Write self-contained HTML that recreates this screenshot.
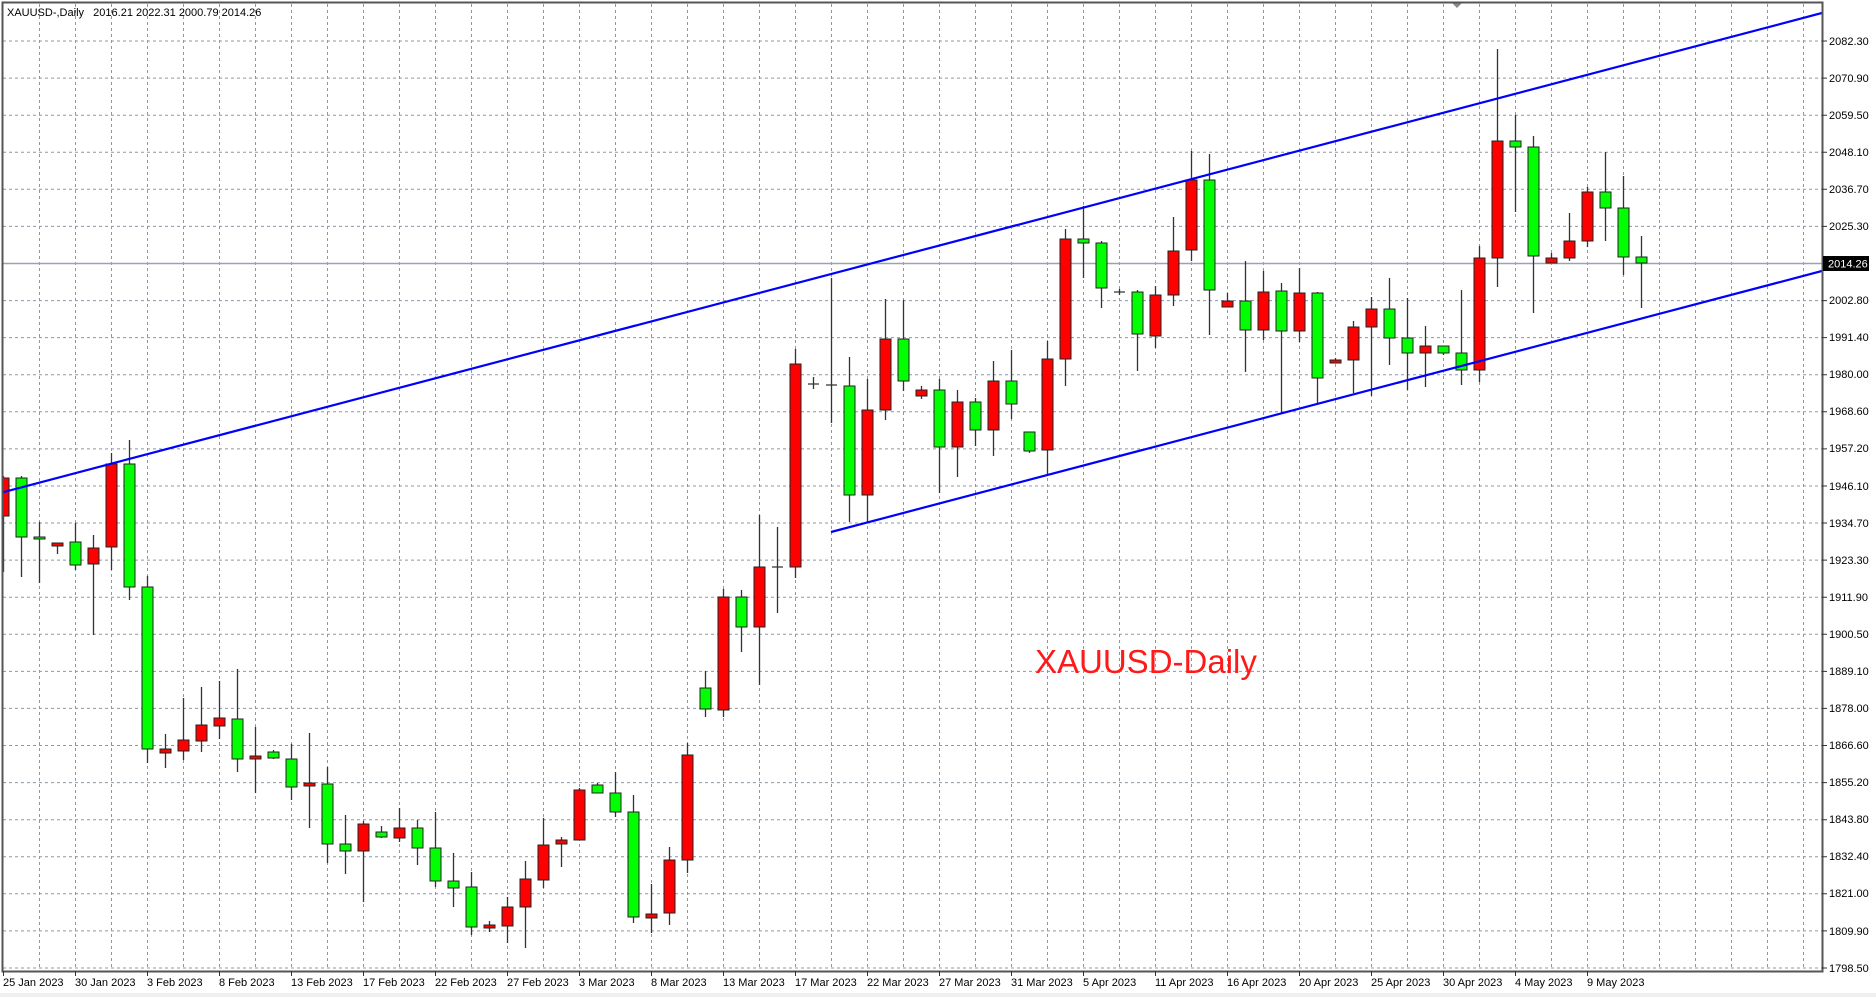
<!DOCTYPE html>
<html><head><meta charset="utf-8"><style>
html,body{margin:0;padding:0;background:#fff;}
svg{display:block;font-family:"Liberation Sans",sans-serif;}
</style></head><body>
<svg width="1876" height="997" viewBox="0 0 1876 997" xmlns="http://www.w3.org/2000/svg">
<rect x="0" y="0" width="1876" height="997" fill="#fff"/>
<rect x="0" y="993" width="1876" height="4" fill="#f0f0f0"/>
<defs><clipPath id="c"><rect x="3" y="3" width="1819" height="968"/></clipPath></defs>
<g stroke="#8a98a8" stroke-width="1" stroke-dasharray="3,3" fill="none">
<path d="M3 41H1822M3 78.1H1822M3 115.2H1822M3 152.2H1822M3 189.3H1822M3 226.4H1822M3 263.5H1822M3 300.6H1822M3 337.6H1822M3 374.7H1822M3 411.8H1822M3 448.9H1822M3 486H1822M3 523H1822M3 560.1H1822M3 597.2H1822M3 634.3H1822M3 671.4H1822M3 708.4H1822M3 745.5H1822M3 782.6H1822M3 819.7H1822M3 856.8H1822M3 893.8H1822M3 930.9H1822M3 968H1822"/>
<path d="M39.5 4V970M75.5 4V970M111.5 4V970M147.5 4V970M183.5 4V970M219.5 4V970M255.5 4V970M291.5 4V970M327.5 4V970M363.5 4V970M399.5 4V970M435.5 4V970M471.5 4V970M507.5 4V970M543.5 4V970M579.5 4V970M615.5 4V970M651.5 4V970M687.5 4V970M723.5 4V970M759.5 4V970M795.5 4V970M831.5 4V970M867.5 4V970M903.5 4V970M939.5 4V970M975.5 4V970M1011.5 4V970M1047.5 4V970M1083.5 4V970M1119.5 4V970M1155.5 4V970M1191.5 4V970M1227.5 4V970M1263.5 4V970M1299.5 4V970M1335.5 4V970M1371.5 4V970M1407.5 4V970M1443.5 4V970M1479.5 4V970M1515.5 4V970M1551.5 4V970M1587.5 4V970M1623.5 4V970M1659.5 4V970M1695.5 4V970M1731.5 4V970M1767.5 4V970M1803.5 4V970"/>
</g>
<line x1="3" y1="263.5" x2="1822" y2="263.5" stroke="#9aa4b0" stroke-width="1.5"/>
<text x="1035" y="673" font-size="33" fill="#ff1a1a">XAUUSD-Daily</text>
<g clip-path="url(#c)">
<path stroke="#333" stroke-width="1.3" fill="none" d="M3.5 476V572M21.5 476V577M39.5 522V583M57.5 543V554M75.5 523V570M93.5 535V635M111.5 453V570M129.5 440V600M147.5 576V763M165.5 734V768M183.5 698V760M201.5 687V752M219.5 681V739M237.5 669V772M255.5 727V793M273.5 750V759M291.5 744V800M309.5 733V828M327.5 767V863M345.5 815V874M363.5 821V902M381.5 826V838M399.5 808V842M417.5 820V865M435.5 812V887M453.5 853V907M471.5 872V935M489.5 921V932M507.5 897V943M525.5 861V948M543.5 818V888M561.5 837V867M579.5 788V840M597.5 783V793M615.5 772V817M633.5 795V923M651.5 884V933M669.5 847V925M687.5 743V873M705.5 671V717M723.5 589V717M741.5 590V652M759.5 515V685M777.5 527V613M795.5 349V578M813.5 377V389M831.5 278V423M849.5 357V522M867.5 379V522M885.5 299V420M903.5 300V391M921.5 386V399M939.5 379V493M957.5 390V477M975.5 398V446M993.5 361V456M1011.5 350V419M1029.5 432V453M1047.5 341V475M1065.5 229V386M1083.5 206V278M1101.5 241V308M1119.5 289V295M1137.5 290V371M1155.5 286V348M1173.5 217V306M1191.5 151V261M1209.5 154V335M1227.5 293V307M1245.5 261V372M1263.5 271V340M1281.5 283V413M1299.5 268V342M1317.5 292V403M1335.5 358V363M1353.5 321V393M1371.5 297V396M1389.5 278V365M1407.5 298V390M1425.5 326V387M1443.5 346V355M1461.5 290V385M1479.5 246V382M1497.5 49V287M1515.5 115V212M1533.5 136V313M1551.5 253V263M1569.5 213V261M1587.5 187V247M1605.5 152V241M1623.5 176V275M1641.5 236V308M772 567H783M808 384H819M826 385H837M1114 292H1125"/>
<g stroke="#222" stroke-width="1">
<g fill="#ff0000">
<rect x="-2" y="478" width="11" height="38"/>
<rect x="52" y="543" width="11" height="3"/>
<rect x="88" y="548" width="11" height="16"/>
<rect x="106" y="464" width="11" height="83"/>
<rect x="160" y="749" width="11" height="4"/>
<rect x="178" y="740" width="11" height="11"/>
<rect x="196" y="725" width="11" height="16"/>
<rect x="214" y="718" width="11" height="8"/>
<rect x="250" y="756" width="11" height="3"/>
<rect x="304" y="783" width="11" height="3"/>
<rect x="358" y="824" width="11" height="27"/>
<rect x="394" y="828" width="11" height="10"/>
<rect x="484" y="925" width="11" height="3"/>
<rect x="502" y="907" width="11" height="19"/>
<rect x="520" y="879" width="11" height="28"/>
<rect x="538" y="845" width="11" height="35"/>
<rect x="556" y="840" width="11" height="4"/>
<rect x="574" y="790" width="11" height="50"/>
<rect x="646" y="914" width="11" height="4"/>
<rect x="664" y="860" width="11" height="53"/>
<rect x="682" y="755" width="11" height="105"/>
<rect x="718" y="597" width="11" height="113"/>
<rect x="754" y="567" width="11" height="60"/>
<rect x="790" y="364" width="11" height="203"/>
<rect x="862" y="410" width="11" height="85"/>
<rect x="880" y="339" width="11" height="71"/>
<rect x="916" y="390" width="11" height="6"/>
<rect x="952" y="402" width="11" height="45"/>
<rect x="988" y="381" width="11" height="49"/>
<rect x="1042" y="359" width="11" height="91"/>
<rect x="1060" y="239" width="11" height="120"/>
<rect x="1150" y="295" width="11" height="41"/>
<rect x="1168" y="251" width="11" height="44"/>
<rect x="1186" y="180" width="11" height="70"/>
<rect x="1222" y="301" width="11" height="6"/>
<rect x="1258" y="292" width="11" height="38"/>
<rect x="1294" y="293" width="11" height="38"/>
<rect x="1330" y="360" width="11" height="3"/>
<rect x="1348" y="327" width="11" height="33"/>
<rect x="1366" y="309" width="11" height="18"/>
<rect x="1420" y="346" width="11" height="7"/>
<rect x="1474" y="258" width="11" height="112"/>
<rect x="1492" y="141" width="11" height="117"/>
<rect x="1546" y="258" width="11" height="5"/>
<rect x="1564" y="241" width="11" height="17"/>
<rect x="1582" y="192" width="11" height="49"/>
</g>
<g fill="#00ff00">
<rect x="16" y="478" width="11" height="59"/>
<rect x="34" y="537" width="11" height="2"/>
<rect x="70" y="542" width="11" height="23"/>
<rect x="124" y="464" width="11" height="123"/>
<rect x="142" y="587" width="11" height="162"/>
<rect x="232" y="719" width="11" height="40"/>
<rect x="268" y="752" width="11" height="6"/>
<rect x="286" y="759" width="11" height="28"/>
<rect x="322" y="784" width="11" height="60"/>
<rect x="340" y="844" width="11" height="7"/>
<rect x="376" y="832" width="11" height="5"/>
<rect x="412" y="828" width="11" height="20"/>
<rect x="430" y="848" width="11" height="33"/>
<rect x="448" y="881" width="11" height="7"/>
<rect x="466" y="887" width="11" height="40"/>
<rect x="592" y="785" width="11" height="8"/>
<rect x="610" y="793" width="11" height="19"/>
<rect x="628" y="812" width="11" height="105"/>
<rect x="700" y="688" width="11" height="21"/>
<rect x="736" y="597" width="11" height="30"/>
<rect x="844" y="386" width="11" height="109"/>
<rect x="898" y="339" width="11" height="42"/>
<rect x="934" y="390" width="11" height="57"/>
<rect x="970" y="402" width="11" height="28"/>
<rect x="1006" y="381" width="11" height="23"/>
<rect x="1024" y="432" width="11" height="19"/>
<rect x="1078" y="239" width="11" height="4"/>
<rect x="1096" y="243" width="11" height="45"/>
<rect x="1132" y="292" width="11" height="42"/>
<rect x="1204" y="180" width="11" height="110"/>
<rect x="1240" y="301" width="11" height="29"/>
<rect x="1276" y="291" width="11" height="40"/>
<rect x="1312" y="293" width="11" height="85"/>
<rect x="1384" y="309" width="11" height="29"/>
<rect x="1402" y="338" width="11" height="15"/>
<rect x="1438" y="346" width="11" height="7"/>
<rect x="1456" y="353" width="11" height="17"/>
<rect x="1510" y="141" width="11" height="6"/>
<rect x="1528" y="147" width="11" height="109"/>
<rect x="1600" y="192" width="11" height="16"/>
<rect x="1618" y="208" width="11" height="49"/>
<rect x="1636" y="257" width="11" height="6"/>
</g>
</g>
<line x1="0" y1="493" x2="1822" y2="13" stroke="#0000ff" stroke-width="2.2"/>
<line x1="831" y1="532" x2="1822" y2="271" stroke="#0000ff" stroke-width="2.2"/>
</g>
<path d="M1452 3L1462 3L1457 8Z" fill="#8a8a8a"/>
<rect x="2.5" y="2.5" width="1820" height="969" fill="none" stroke="#555" stroke-width="2"/>
<g stroke="#333" stroke-width="1">
<path d="M1822 41h5M1822 78.1h5M1822 115.2h5M1822 152.2h5M1822 189.3h5M1822 226.4h5M1822 300.6h5M1822 337.6h5M1822 374.7h5M1822 411.8h5M1822 448.9h5M1822 486h5M1822 523h5M1822 560.1h5M1822 597.2h5M1822 634.3h5M1822 671.4h5M1822 708.4h5M1822 745.5h5M1822 782.6h5M1822 819.7h5M1822 856.8h5M1822 893.8h5M1822 930.9h5M1822 968h5"/>
<path d="M3.5 971v5M75.5 971v5M147.5 971v5M219.5 971v5M291.5 971v5M363.5 971v5M435.5 971v5M507.5 971v5M579.5 971v5M651.5 971v5M723.5 971v5M795.5 971v5M867.5 971v5M939.5 971v5M1011.5 971v5M1083.5 971v5M1155.5 971v5M1227.5 971v5M1299.5 971v5M1371.5 971v5M1443.5 971v5M1515.5 971v5M1587.5 971v5"/>
</g>
<g font-size="11" fill="#000">
<text x="1829" y="45">2082.30</text>
<text x="1829" y="82">2070.90</text>
<text x="1829" y="119">2059.50</text>
<text x="1829" y="156">2048.10</text>
<text x="1829" y="193">2036.70</text>
<text x="1829" y="230">2025.30</text>
<text x="1829" y="304">2002.80</text>
<text x="1829" y="341">1991.40</text>
<text x="1829" y="378">1980.00</text>
<text x="1829" y="415">1968.60</text>
<text x="1829" y="452">1957.20</text>
<text x="1829" y="490">1946.10</text>
<text x="1829" y="527">1934.70</text>
<text x="1829" y="564">1923.30</text>
<text x="1829" y="601">1911.90</text>
<text x="1829" y="638">1900.50</text>
<text x="1829" y="675">1889.10</text>
<text x="1829" y="712">1878.00</text>
<text x="1829" y="749">1866.60</text>
<text x="1829" y="786">1855.20</text>
<text x="1829" y="823">1843.80</text>
<text x="1829" y="860">1832.40</text>
<text x="1829" y="897">1821.00</text>
<text x="1829" y="935">1809.90</text>
<text x="1829" y="972">1798.50</text>
</g>
<rect x="1823" y="256" width="46" height="15" fill="#000"/>
<text x="1828" y="267.5" font-size="11" fill="#fff">2014.26</text>
<g font-size="11" fill="#000">
<text x="3" y="986">25 Jan 2023</text>
<text x="75" y="986">30 Jan 2023</text>
<text x="147" y="986">3 Feb 2023</text>
<text x="219" y="986">8 Feb 2023</text>
<text x="291" y="986">13 Feb 2023</text>
<text x="363" y="986">17 Feb 2023</text>
<text x="435" y="986">22 Feb 2023</text>
<text x="507" y="986">27 Feb 2023</text>
<text x="579" y="986">3 Mar 2023</text>
<text x="651" y="986">8 Mar 2023</text>
<text x="723" y="986">13 Mar 2023</text>
<text x="795" y="986">17 Mar 2023</text>
<text x="867" y="986">22 Mar 2023</text>
<text x="939" y="986">27 Mar 2023</text>
<text x="1011" y="986">31 Mar 2023</text>
<text x="1083" y="986">5 Apr 2023</text>
<text x="1155" y="986">11 Apr 2023</text>
<text x="1227" y="986">16 Apr 2023</text>
<text x="1299" y="986">20 Apr 2023</text>
<text x="1371" y="986">25 Apr 2023</text>
<text x="1443" y="986">30 Apr 2023</text>
<text x="1515" y="986">4 May 2023</text>
<text x="1587" y="986">9 May 2023</text>
</g>
<text x="7" y="16" font-size="11" fill="#000">XAUUSD-,Daily&#160;&#160;&#160;2016.21 2022.31 2000.79 2014.26</text>
</svg>
</body></html>
